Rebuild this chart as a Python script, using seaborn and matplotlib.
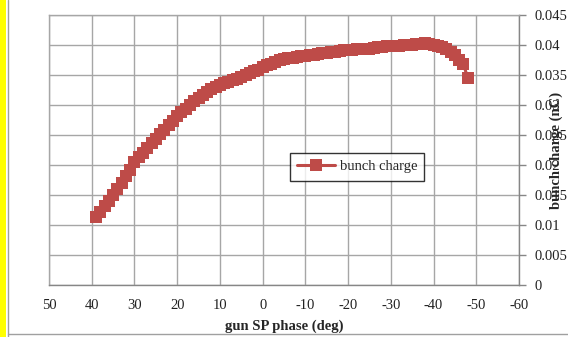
import matplotlib
matplotlib.use("Agg")
import matplotlib.pyplot as plt
from matplotlib.patches import Rectangle
from matplotlib.lines import Line2D
import numpy as np
import pandas as pd
import seaborn as sns

# gun SP phase scan (deg) and measured bunch charge (nC)
phase = [39, 38, 37, 36, 35, 34, 33, 32, 31, 30,
         29, 28, 27, 26, 25, 24, 23, 22, 21, 20,
         19, 18, 17, 16, 15, 14, 13, 12, 11, 10,
         9, 8, 7, 6, 5, 4, 3, 2, 1, 0,
         -1, -2, -3, -4, -5, -6, -7, -8, -9, -10,
         -11, -12, -13, -14, -15, -16, -17, -18, -19, -20,
         -21, -22, -23, -24, -25, -26, -27, -28, -29, -30,
         -31, -32, -33, -34, -35, -36, -37, -38, -39, -40,
         -41, -42, -43, -44, -45, -46, -47, -48]
charge = [0.0113, 0.0122, 0.0131, 0.0140, 0.0150, 0.0160, 0.0170, 0.0181, 0.0192, 0.0205,
          0.0213, 0.0220, 0.0228, 0.0236, 0.0243, 0.0251, 0.0258, 0.0266, 0.0273, 0.0281,
          0.0288, 0.0294, 0.0300, 0.0306, 0.0312, 0.0317, 0.0322, 0.0326, 0.0330, 0.0334,
          0.0337, 0.0339, 0.0341, 0.0344, 0.0347, 0.0350, 0.0353, 0.0356, 0.0359, 0.0363,
          0.0366, 0.0369, 0.0372, 0.0375, 0.0377, 0.0378, 0.0379, 0.0380, 0.0381, 0.0382,
          0.0383, 0.0384, 0.0385, 0.0386, 0.0387, 0.0388, 0.0389, 0.0390, 0.0391, 0.0392,
          0.0392, 0.0393, 0.0393, 0.0393, 0.0394, 0.0395, 0.0396, 0.0397, 0.0398, 0.0398,
          0.0399, 0.0399, 0.0400, 0.0400, 0.0400, 0.0401, 0.0402, 0.0403, 0.0402, 0.0400,
          0.0399, 0.0397, 0.0393, 0.0389, 0.0383, 0.0375, 0.0368, 0.0345]

x_ticks = [50, 40, 30, 20, 10, 0, -10, -20, -30, -40, -50, -60]
y_ticks = [0, 0.005, 0.01, 0.015, 0.02, 0.025, 0.03, 0.035, 0.04, 0.045]
y_tick_labels = ["0", "0.005", "0.01", "0.015", "0.02", "0.025", "0.03", "0.035", "0.04", "0.045"]

sns.set_style("white")
plt.rcParams["font.family"] = ["Liberation Serif", "DejaVu Serif"]

W, H = 568, 337
fig = plt.figure(figsize=(W / 100, H / 100), dpi=100)
ax = fig.add_axes([49 / W, (H - 285) / H, 470 / W, 270 / H])

df = pd.DataFrame({"phase": phase, "charge": charge})
red = "#BE4B48"
sns.lineplot(data=df, x="phase", y="charge", sort=False, ax=ax,
             color=red, linewidth=2.2, marker="s", markersize=8.5,
             markeredgewidth=0, label="bunch charge")

ax.set_xlim(50, -60)
ax.set_ylim(0, 0.045)
ax.set_xticks(x_ticks)
ax.set_xticklabels([str(v) for v in x_ticks])
ax.set_yticks(y_ticks)
ax.set_yticklabels(y_tick_labels)
ax.yaxis.tick_right()
ax.set_xlabel("")
ax.set_ylabel("")

grid_c = "#A6A6A6"
ax.grid(True, color=grid_c, linewidth=1.0)
ax.set_axisbelow(True)
for side in ["left", "top"]:
    ax.spines[side].set_color(grid_c)
    ax.spines[side].set_linewidth(1.0)
for side in ["bottom", "right"]:
    ax.spines[side].set_color("#868686")
    ax.spines[side].set_linewidth(1.0)
ax.tick_params(axis="both", direction="out", length=5, width=1, color="#868686",
               labelsize=10.5, labelcolor="#222222")
ax.tick_params(axis="x", pad=5)
ax.tick_params(axis="y", pad=6, right=True, left=False)

leg = ax.legend(loc="upper left", bbox_to_anchor=(0.513, 0.489), borderaxespad=0,
                frameon=True, fancybox=False, fontsize=10.5, handlelength=2.6,
                borderpad=0.5, handletextpad=0.3)
leg.get_frame().set_edgecolor("black")
leg.get_frame().set_linewidth(1.0)

fig.text(284 / W, 1 - 326 / H, "gun SP phase (deg)", ha="center", va="center",
         fontsize=10.5, fontweight="bold")
fig.text(556 / W, 1 - 150 / H, "bunch charge (nC)", ha="center", va="center",
         rotation=90, fontsize=10.5, fontweight="bold")

# page border decoration
fig.add_artist(Rectangle((0, 0), 6 / W, 1, transform=fig.transFigure,
                         facecolor="#FFFF00", edgecolor="none"))
fig.add_artist(Line2D([7.5 / W, 7.5 / W], [0, 1], transform=fig.transFigure,
                      color="#A0A0A0", linewidth=1.0))
fig.add_artist(Line2D([7.5 / W, 1], [1 - 333.5 / H, 1 - 333.5 / H],
                      transform=fig.transFigure, color="#A0A0A0", linewidth=1.0))

fig.savefig("out.png", dpi=100)
